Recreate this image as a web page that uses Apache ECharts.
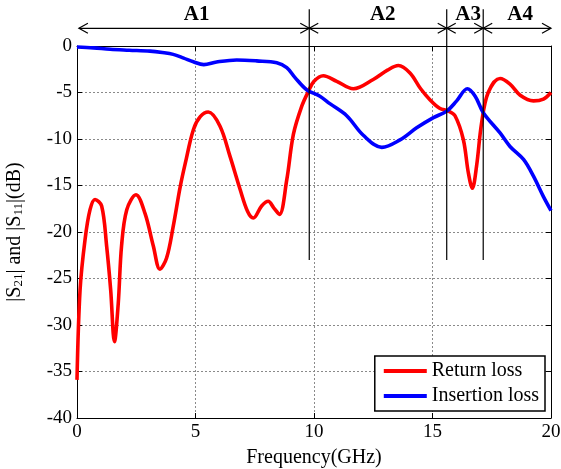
<!DOCTYPE html>
<html>
<head>
<meta charset="utf-8">
<script src="https://cdn.jsdelivr.net/npm/echarts@6/dist/echarts.min.js"></script>
<style>html,body{margin:0;padding:0;background:#fff}#c{width:561px;height:469px}</style>
</head>
<body>
<div id="c"></div>
<script>
// Return loss (|S11|) samples: frequency (GHz) and dB
const rlFreq = [0,0.13,0.34,0.55,0.76,1.04,1.25,1.42,1.58,1.74,1.88,2.1,2.49,2.87,3.22,3.5,3.78,4.06,4.35,4.57,4.91,5.2,5.54,6.03,6.46,6.88,7.2,7.44,7.79,8.07,8.3,8.54,8.85,9.13,9.48,9.76,10.0,10.39,10.96,11.66,12.5,13.1,13.56,14.05,14.5,14.9,15.3,15.67,15.95,16.3,16.51,16.68,16.86,17.07,17.35,17.85,18.27,18.7,19.26,19.68,20];
const rlVals = [-35.9,-26.2,-20.8,-17.6,-16.5,-17.2,-21.5,-26.2,-31.8,-27.7,-21.5,-17.6,-16.0,-18.0,-21.5,-24.0,-22.8,-19.4,-15.2,-12.6,-9.0,-7.6,-7.1,-8.6,-11.9,-15.4,-17.8,-18.5,-17.2,-16.7,-17.4,-18.1,-14.4,-9.5,-6.5,-4.9,-3.8,-3.2,-3.8,-4.6,-3.6,-2.6,-2.1,-2.9,-4.6,-5.8,-6.7,-7.0,-7.5,-10.05,-13.6,-15.3,-12.9,-8.3,-5.0,-3.5,-4.1,-5.3,-5.9,-5.7,-5.0];
// Insertion loss (|S21|) samples
const ilFreq = [0,0.7,1.4,2.2,3.08,3.6,4.06,4.5,4.91,5.35,5.89,6.74,7.58,8.43,8.85,9.2,9.69,10.25,10.67,11.38,12.08,12.86,13.63,14.33,15.04,15.6,16.02,16.47,16.8,17.15,17.85,18.27,18.84,19.26,19.68,20];
const ilVals = [-0.1,-0.2,-0.35,-0.45,-0.55,-0.7,-0.9,-1.3,-1.7,-2.0,-1.72,-1.5,-1.6,-1.8,-2.33,-3.4,-4.7,-5.4,-6.2,-7.5,-9.6,-10.9,-10.1,-8.8,-7.7,-7.0,-5.9,-4.6,-5.4,-7.2,-9.35,-10.8,-12.2,-14.0,-16.2,-17.7];
// Band annotations
const bandNames = ['A1','A2','A3','A4'];
const bandStarts = [0.08, 9.8, 15.6, 17.14];
const bandEnds = [9.8, 15.6, 17.14, 20];
const bandLabelAt = [5.05, 12.9, 16.5, 18.7];
const dividers = [9.8, 15.6, 17.14];
const xTicks = [0,5,10,15,20];
const yTicks = [0,-5,-10,-15,-20,-25,-30,-35,-40];
const seriesNames = ['Return loss','Insertion loss'];

const FONT = '"Liberation Serif","DejaVu Serif",serif';
const ARROW_Y = 1.9, LABEL_Y = 3.4, DIV_TOP = 3.95, DIV_BOTTOM = -23;

const zip = (a,b) => a.map((v,i)=>[v,b[i]]);
const chart = echarts.init(document.getElementById('c'));

const gridLine = {show:true, lineStyle:{color:'#8a8a8a', type:[2,2], width:1}};
const commonX = {type:'value', min:0, max:20, interval:5};
const commonY = {type:'value', min:-40, max:0, interval:5};

chart.setOption({
  animation:false,
  backgroundColor:'#fff',
  grid:{left:77, right:10, top:46, bottom:51, containLabel:false, outerBoundsMode:'none'},
  xAxis:[
    Object.assign({}, commonX, {
      position:'bottom',
      name:'Frequency(GHz)', nameLocation:'middle', nameGap:30,
      nameTextStyle:{fontFamily:FONT, fontSize:20, color:'#000'},
      axisLine:{show:true, onZero:false, lineStyle:{color:'#000', width:1}},
      axisTick:{show:true, inside:true, length:5, lineStyle:{color:'#000'}},
      axisLabel:{fontFamily:FONT, fontSize:19, color:'#000', margin:5,
        formatter:v=>xTicks.includes(v)?String(v):''},
      splitLine:gridLine
    }),
    Object.assign({}, commonX, {
      position:'top',
      axisLine:{show:true, onZero:false, lineStyle:{color:'#000', width:1}},
      axisTick:{show:true, inside:true, length:5, lineStyle:{color:'#000'}},
      axisLabel:{show:false}, splitLine:{show:false}
    })
  ],
  yAxis:[
    Object.assign({}, commonY, {
      position:'left',
      name:'|S{sub|21}| and |S{sub|11}|(dB)', nameLocation:'middle', nameGap:52,
      nameTextStyle:{fontFamily:FONT, fontSize:20, color:'#000',
        rich:{sub:{fontFamily:FONT, fontSize:13, color:'#000', verticalAlign:'bottom', padding:[8,0,0,0]}}},
      axisLine:{show:true, onZero:false, lineStyle:{color:'#000', width:1}},
      axisTick:{show:true, inside:true, length:5, lineStyle:{color:'#000'}},
      axisLabel:{fontFamily:FONT, fontSize:19, color:'#000', margin:5,
        formatter:v=>yTicks.includes(v)?String(v):''},
      splitLine:gridLine
    }),
    Object.assign({}, commonY, {
      position:'right',
      axisLine:{show:true, onZero:false, lineStyle:{color:'#000', width:1}},
      axisTick:{show:true, inside:true, length:5, lineStyle:{color:'#000'}},
      axisLabel:{show:false}, splitLine:{show:false}
    })
  ],
  legend:{
    data:seriesNames, orient:'vertical', right:16, bottom:58,
    backgroundColor:'#fff', borderColor:'#000', borderWidth:1.5, borderRadius:0,
    padding:[5,6,5,9], itemGap:5, itemWidth:43, itemHeight:4, icon:'rect',
    textStyle:{fontFamily:FONT, fontSize:20, color:'#000', padding:[0,0,0,0]}
  },
  series:[
    {name:seriesNames[0], type:'line', data:zip(rlFreq,rlVals), smooth:0.35, showSymbol:false, symbol:'none',
     lineStyle:{color:'#ff0000', width:3.6}, itemStyle:{color:'#ff0000'}, z:3},
    {name:seriesNames[1], type:'line', data:zip(ilFreq,ilVals), smooth:0.35, showSymbol:false, symbol:'none',
     lineStyle:{color:'#0000ff', width:3.6}, itemStyle:{color:'#0000ff'}, z:3},
    {type:'custom', clip:false, silent:true, z:5,
     data:dividers.map(d=>[d]),
     renderItem:(params, api)=>{
       const d = api.value(0);
       const p1 = api.coord([d, DIV_TOP]), p2 = api.coord([d, DIV_BOTTOM]);
       return {type:'line', shape:{x1:p1[0], y1:p1[1], x2:p2[0], y2:p2[1]},
               style:{stroke:'#000', lineWidth:1.2}};
     }},
    {type:'custom', clip:false, silent:true, z:5,
     data:bandStarts.map((s,i)=>[s, bandEnds[i], bandLabelAt[i], i]),
     renderItem:(params, api)=>{
       const s = api.value(0), e = api.value(1), c = api.value(2), i = api.value(3);
       const a = api.coord([s, ARROW_Y]), b = api.coord([e, ARROW_Y]);
       const t = api.coord([c, LABEL_Y]);
       const L = 9, H = 5;
       const st = {stroke:'#000', lineWidth:1.2, fill:null};
       return {type:'group', children:[
         {type:'line', shape:{x1:a[0], y1:a[1], x2:b[0], y2:b[1]}, style:st},
         {type:'polyline', shape:{points:[[a[0]+L,a[1]-H],[a[0],a[1]],[a[0]+L,a[1]+H]]}, style:st},
         {type:'polyline', shape:{points:[[b[0]-L,b[1]-H],[b[0],b[1]],[b[0]-L,b[1]+H]]}, style:st},
         {type:'text', x:t[0], y:t[1], style:{text:bandNames[i], fontFamily:FONT, fontWeight:'bold', fontSize:21,
           fill:'#000', align:'center', verticalAlign:'middle'}}
       ]};
     }}
  ]
});
</script>
</body>
</html>
